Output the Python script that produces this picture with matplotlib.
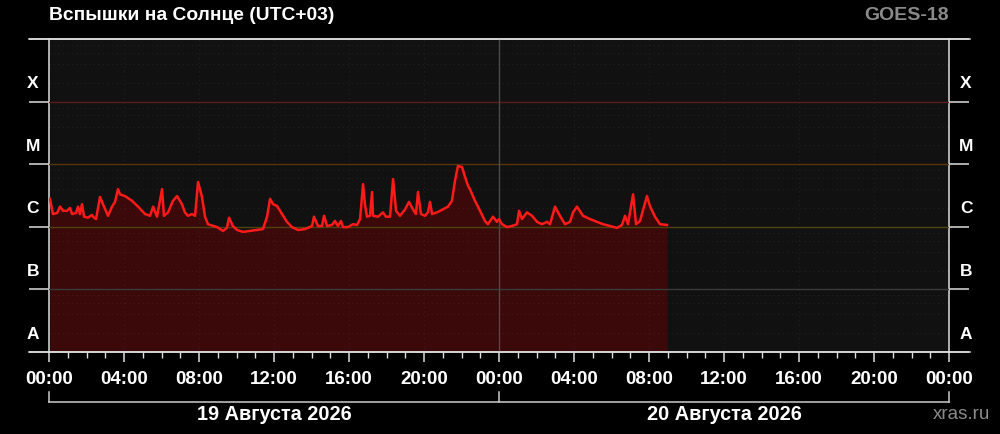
import matplotlib
matplotlib.use("Agg")
import matplotlib.pyplot as plt
import matplotlib.transforms as mtransforms
from matplotlib.ticker import FixedLocator, NullFormatter

# ---- data ----
hours = [0.05, 0.21, 0.43, 0.59, 0.75, 0.96, 1.12, 1.23, 1.44, 1.55, 1.65, 1.76, 1.87,
         2.08, 2.29, 2.40, 2.51, 2.72, 2.88, 3.15, 3.36, 3.52, 3.68, 3.79, 4.05, 4.43,
         4.75, 5.12, 5.39, 5.55, 5.76, 6.03, 6.13, 6.35, 6.61, 6.83, 7.09, 7.25, 7.41,
         7.63, 7.79, 7.95, 8.16, 8.32, 8.48, 8.96, 9.28, 9.49, 9.60, 9.81, 10.03, 10.35,
         10.72, 11.09, 11.41, 11.63, 11.79, 11.95, 12.16, 12.43, 12.69, 12.96, 13.28,
         13.65, 14.03, 14.13, 14.35, 14.56, 14.67, 14.83, 15.09, 15.25, 15.41, 15.57,
         15.68, 15.95, 16.21, 16.43, 16.59, 16.75, 16.85, 16.96, 17.12, 17.23, 17.28,
         17.55, 17.81, 17.97, 18.19, 18.35, 18.51, 18.72, 18.99, 19.20, 19.41, 19.57,
         19.68, 19.84, 20.05, 20.21, 20.32, 20.43, 20.69, 21.01, 21.28, 21.49, 21.65,
         21.81, 22.03, 22.19, 22.35, 22.45, 22.72, 22.99, 23.25, 23.41, 23.68, 23.89,
         24.00, 24.16, 24.43, 24.69, 24.96, 25.07, 25.23, 25.49, 25.76, 26.03, 26.29,
         26.56, 26.72, 26.99, 27.25, 27.52, 27.79, 27.95, 28.16, 28.48, 28.85, 29.23,
         29.55, 29.92, 30.29, 30.56, 30.72, 30.88, 31.15, 31.31, 31.52, 31.89, 32.05,
         32.32, 32.59, 32.96]
flux = [2.8e-6, 1.6e-6, 1.66e-6, 2.1e-6, 1.8e-6, 1.8e-6, 2.0e-6, 1.6e-6, 1.66e-6, 2.1e-6,
        1.6e-6, 2.3e-6, 1.45e-6, 1.4e-6, 1.55e-6, 1.4e-6, 1.33e-6, 3.0e-6, 2.3e-6, 1.5e-6,
        2.1e-6, 2.5e-6, 4.0e-6, 3.3e-6, 3.1e-6, 2.6e-6, 2.1e-6, 1.6e-6, 1.5e-6, 2.1e-6,
        1.45e-6, 4.0e-6, 1.5e-6, 1.7e-6, 2.6e-6, 3.1e-6, 2.3e-6, 1.7e-6, 1.5e-6, 1.6e-6,
        1.5e-6, 5.2e-6, 3.0e-6, 1.45e-6, 1.1e-6, 0.99e-6, 0.86e-6, 0.96e-6, 1.4e-6,
        1.03e-6, 0.89e-6, 0.83e-6, 0.86e-6, 0.89e-6, 0.92e-6, 1.45e-6, 2.8e-6, 2.3e-6,
        2.15e-6, 1.6e-6, 1.2e-6, 0.99e-6, 0.89e-6, 0.92e-6, 1.03e-6, 1.45e-6, 1.03e-6,
        1.03e-6, 1.5e-6, 1.03e-6, 1.07e-6, 1.24e-6, 1.03e-6, 1.24e-6, 0.99e-6, 0.99e-6,
        1.1e-6, 1.07e-6, 1.33e-6, 4.8e-6, 2.3e-6, 1.45e-6, 1.5e-6, 3.6e-6, 1.5e-6,
        1.45e-6, 1.7e-6, 1.45e-6, 1.45e-6, 5.8e-6, 1.8e-6, 1.5e-6, 1.9e-6, 2.5e-6,
        1.9e-6, 1.6e-6, 3.6e-6, 1.6e-6, 1.5e-6, 1.7e-6, 2.5e-6, 1.6e-6, 1.7e-6, 1.9e-6,
        2.1e-6, 2.6e-6, 5.4e-6, 9.35e-6, 9.0e-6, 6.25e-6, 4.5e-6, 4.0e-6, 2.6e-6, 1.8e-6,
        1.24e-6, 1.1e-6, 1.45e-6, 1.2e-6, 1.33e-6, 1.1e-6, 0.99e-6, 1.03e-6, 1.1e-6,
        1.8e-6, 1.33e-6, 1.7e-6, 1.5e-6, 1.2e-6, 1.1e-6, 1.2e-6, 1.1e-6, 2.1e-6, 1.5e-6,
        1.1e-6, 1.2e-6, 1.7e-6, 2.1e-6, 1.5e-6, 1.33e-6, 1.2e-6, 1.1e-6, 1.03e-6, 0.96e-6,
        1.07e-6, 1.5e-6, 1.1e-6, 3.3e-6, 1.1e-6, 1.24e-6, 3.1e-6, 2.15e-6, 1.45e-6,
        1.1e-6, 1.07e-6]

class_levels = [1e-8, 1e-7, 1e-6, 1e-5, 1e-4, 1e-3]
class_names = ["A", "B", "C", "M", "X"]
level_line_colors = {1e-7: "#3a3a3a", 1e-6: "#4d4412", 1e-5: "#55350f", 1e-4: "#5a1c1c"}
tick_hours = list(range(0, 49, 4))
tick_labels = ["00:00", "04:00", "08:00", "12:00", "16:00", "20:00",
               "00:00", "04:00", "08:00", "12:00", "16:00", "20:00", "00:00"]
day_labels = ["19 Августа 2026", "20 Августа 2026"]
title = "Вспышки на Солнце (UTC+03)"
satellite = "GOES-18"
source = "xras.ru"

plt.rcParams["font.family"] = ["Liberation Sans", "DejaVu Sans"]

fig = plt.figure(figsize=(10, 4.35), dpi=100, facecolor="black")
ax = fig.add_axes([0.049, 82 / 435, 0.9, 313 / 435])
ax.set_facecolor("#111111")
ax.set_yscale("log")
ax.set_xlim(0, 48)
ax.set_ylim(1e-8, 1e-3)

ax.fill_between(hours, flux, 1e-8, color="#3b0909", lw=0, zorder=2)

# faint dotted grid (drawn over the fill)
minor_y = [m * 10.0 ** e for e in range(-8, -3) for m in (2, 4, 6, 8)]
for v in minor_y:
    ax.axhline(v, color="#ffffff", alpha=0.07, lw=0.8, ls=(0, (1, 3)), zorder=3)
for h in tick_hours[1:-1]:
    ax.axvline(h, color="#ffffff", alpha=0.07, lw=0.8, ls=(0, (1, 3)), zorder=3)

for lev, c in level_line_colors.items():
    ax.axhline(lev, color=c, lw=1.0, zorder=3)
ax.axvline(24, color="#4a4a4a", lw=1.0, zorder=3)

ax.plot(hours, flux, color="#ff1a1a", lw=1.8, zorder=4, solid_joinstyle="round")

for s in ax.spines.values():
    s.set_color("#dddddd")
    s.set_linewidth(1.1)

# y ticks: long white at class boundaries, both sides
ax.yaxis.set_major_locator(FixedLocator(class_levels))
ax.yaxis.set_major_formatter(NullFormatter())
ax.yaxis.set_minor_locator(FixedLocator([]))
ax.tick_params(axis="y", which="major", direction="out", length=14.5, width=1.1,
               color="#dddddd", left=True, right=True)

blend = mtransforms.blended_transform_factory(ax.transAxes, ax.transData)
for i, name in enumerate(class_names):
    yv = 2 * class_levels[i]
    ax.text(-0.0178, yv, name, transform=blend, ha="center", va="center",
            color="white", fontsize=12.5, fontweight="bold")
    ax.text(1.0189, yv, name, transform=blend, ha="center", va="center",
            color="white", fontsize=12.5, fontweight="bold")

# x ticks
ax.xaxis.set_major_locator(FixedLocator(tick_hours))
ax.set_xticklabels(tick_labels)
ax.xaxis.set_minor_locator(FixedLocator(list(range(0, 49))))
ax.tick_params(axis="x", which="major", direction="out", length=7, width=1.1,
               color="#dddddd", labelcolor="white", labelsize=13.5, pad=6)
ax.tick_params(axis="x", which="minor", direction="out", length=4.3, width=1.0,
               color="#dddddd")
for lab in ax.get_xticklabels():
    lab.set_fontweight("bold")

# extend top/bottom lines across the side ticks
ax.plot([-0.0222, 1.0233], [0, 0], transform=ax.transAxes, color="#dddddd",
        lw=1.1, clip_on=False, zorder=5)
ax.plot([-0.0222, 1.0233], [1, 1], transform=ax.transAxes, color="#dddddd",
        lw=1.1, clip_on=False, zorder=5)

# date bracket
yb = (353 - 403) / 313
yt = (353 - 393) / 313
ax.plot([0, 1], [yb, yb], transform=ax.transAxes, color="#cccccc", lw=1.1, clip_on=False)
for xf in (0, 0.5, 1):
    ax.plot([xf, xf], [yb, yt], transform=ax.transAxes, color="#cccccc", lw=1.1, clip_on=False)
yd = (353 - 415) / 313
ax.text(0.25, yd, day_labels[0], transform=ax.transAxes, ha="center", va="center",
        color="white", fontsize=14.3, fontweight="bold")
ax.text(0.75, yd, day_labels[1], transform=ax.transAxes, ha="center", va="center",
        color="white", fontsize=14.3, fontweight="bold")

fig.text(49 / 1000, 1 - 15 / 435, title, ha="left", va="center", color="white",
         fontsize=13.9, fontweight="bold")
fig.text(949 / 1000, 1 - 16 / 435, satellite, ha="right", va="center", color="#8a8a8a",
         fontsize=14, fontweight="bold")
fig.text(990 / 1000, 1 - 415 / 435, source, ha="right", va="center", color="#8a8a8a",
         fontsize=13.5)

fig.savefig("out.png", dpi=100, facecolor="black")
